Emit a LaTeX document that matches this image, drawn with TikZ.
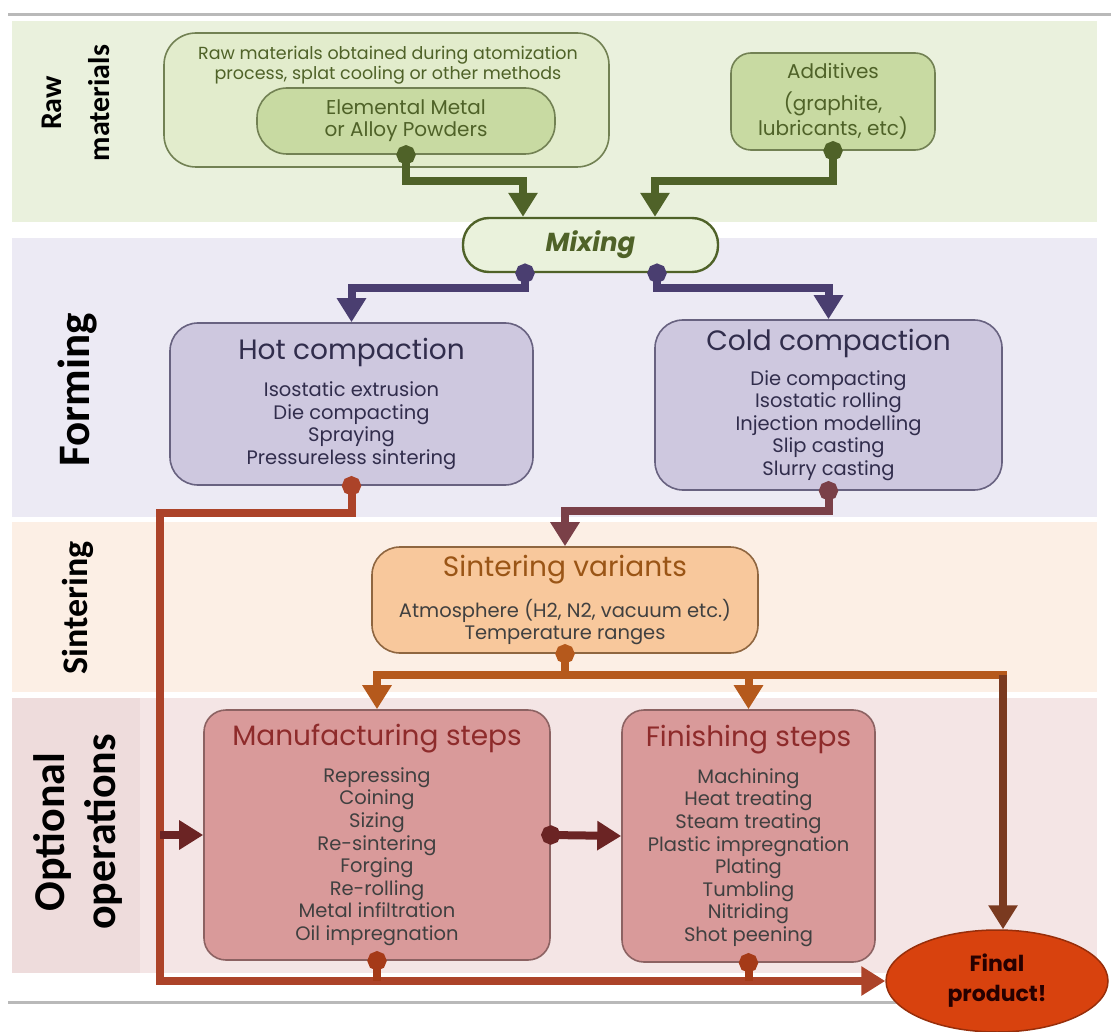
\documentclass[tikz,border=0pt]{standalone}
\usepackage{fontspec}
\setmainfont{Poppins}
\newfontfamily\lblfont{Carlito}
\usetikzlibrary{arrows.meta,shapes.geometric}

\newcommand{\boxtitle}{\fontsize{28}{30}\selectfont}

\definecolor{rawbg}{HTML}{EAF1DD}
\definecolor{formbg}{HTML}{ECEAF4}
\definecolor{sintbg}{HTML}{FCEFE5}
\definecolor{optbg}{HTML}{F4E5E5}
\definecolor{optlbl}{HTML}{EEDCDC}
\definecolor{grnline}{HTML}{4F6228}
\definecolor{grnfill}{HTML}{E2ECCC}
\definecolor{grnbox}{HTML}{C8DAA2}
\definecolor{mixfill}{HTML}{EAF2DC}
\definecolor{purfill}{HTML}{CEC8DF}
\definecolor{purline}{HTML}{686280}
\definecolor{purtext}{HTML}{3D385F}
\definecolor{purarrow}{HTML}{4A3E70}
\definecolor{plum}{HTML}{7A4048}
\definecolor{orgfill}{HTML}{F8C89C}
\definecolor{orgtext}{HTML}{9A5516}
\definecolor{orgline}{HTML}{B5591C}
\definecolor{pinkfill}{HTML}{D99A9A}
\definecolor{pinkline}{HTML}{8C6262}
\definecolor{redtext}{HTML}{8E2B2B}
\definecolor{maroon}{HTML}{6B2424}
\definecolor{rustline}{HTML}{C2441C}
\definecolor{brownline}{HTML}{7A3A20}
\definecolor{finalfill}{HTML}{D8420E}

\begin{document}
\begin{tikzpicture}[x=1pt,y=-1pt,
    bandlbl/.style={rotate=90, align=center, text=black},
    box/.style={rounded corners=28pt, line width=1.6pt, align=center, inner sep=0pt,
        font=\fontsize{19.5}{22.6}\selectfont},
    grnbx/.style={box, draw=grnline!80, fill=grnbox, text=grnline},
    purbx/.style={box, draw=purline, fill=purfill, text=purtext!80!black},
    orgbx/.style={box, draw=orgtext!60!gray, fill=orgfill, text=black!75},
    pinkbx/.style={box, rounded corners=22pt, draw=pinkline, fill=pinkfill, text=black!75},
    dotarrow/.style={line width=8pt, {Circle[length=19pt]}-{Triangle[width=28pt,length=24pt]}, shorten <=-9.5pt},
    dotonly/.style={line width=8pt, {Circle[length=19pt]}-, shorten <=-9.5pt},
    arrowonly/.style={line width=8pt, -{Triangle[width=28pt,length=24pt]}}]
    \useasboundingbox (0,0) rectangle (1111,1032);

    % bands
    \fill[rawbg] (12,21) rectangle (1097,222);
    \fill[formbg] (12,238) rectangle (1097,517);
    \fill[sintbg] (12,522) rectangle (1097,692);
    \fill[optbg] (12,698) rectangle (1097,973);
    \fill[optlbl] (12,698) rectangle (140,973);
    \draw[gray!55,line width=3pt] (8,15) -- (1111,15);
    \draw[gray!55,line width=3pt] (8,1002) -- (900,1002);

    % band labels
    \node[bandlbl, font=\lblfont\bfseries\fontsize{30}{48}\selectfont] (lraw) at (76,103) {Raw\\materials};
    \node[bandlbl, font=\lblfont\bfseries\fontsize{45}{50}\selectfont] (lform) at (78,390) {Forming};
    \node[bandlbl, font=\lblfont\bfseries\fontsize{36}{40}\selectfont] (lsint) at (78,608) {Sintering};
    \node[bandlbl, font=\lblfont\bfseries\fontsize{44}{51}\selectfont] (lopt) at (78,832) {Optional\\operations};

    % raw materials
    \node[grnbx, fill=grnfill, rounded corners=32pt, minimum width=445, minimum height=134] (src) at (386.5,100) {};
    \node[text=grnline, align=center, font=\fontsize{17.5}{20}\selectfont] (srctxt) at (388,65)
        {Raw materials obtained during atomization\\process, splat cooling or other methods};
    \node[grnbx, rounded corners=30pt, minimum width=298, minimum height=66,
        font=\fontsize{20}{22}\selectfont] (pow) at (406,121) {Elemental Metal\\or Alloy Powders};
    \node[grnbx, rounded corners=20pt, minimum width=204, minimum height=97,
        font=\fontsize{20}{21.5}\selectfont] (add) at (833,101.5) {Additives\\[10pt](graphite,\\lubricants, etc)};
    \node[grnbx, draw=grnline, line width=2.4pt, fill=mixfill, rounded corners=26pt,
        minimum width=255, minimum height=54, font=\fontsize{26}{28}\selectfont\bfseries\itshape] (mix) at (590.5,245) {Mixing};

    % forming
    \node[purbx, minimum width=363, minimum height=162] (hot) at (351.5,404)
        {{\boxtitle Hot compaction}\\[14pt]Isostatic extrusion\\Die compacting\\Spraying\\Pressureless sintering};
    \node[purbx, minimum width=347, minimum height=170] (cold) at (828.5,405)
        {{\boxtitle Cold compaction}\\[12pt]Die compacting\\Isostatic rolling\\Injection modelling\\Slip casting\\Slurry casting};

    % sintering
    \node[orgbx, minimum width=386, minimum height=106] (sint) at (565,600)
        {{\boxtitle\color{orgtext} Sintering variants}\\[14pt]Atmosphere (H2, N2, vacuum etc.)\\Temperature ranges};

    % optional operations
    \node[pinkbx, minimum width=346, minimum height=250] (manu) at (377,835)
        {{\boxtitle\color{redtext} Manufacturing steps}\\[14pt]Repressing\\Coining\\Sizing\\Re-sintering\\Forging\\Re-rolling\\Metal infiltration\\Oil impregnation};
    \node[pinkbx, minimum width=253, minimum height=252] (fini) at (748.5,836)
        {{\boxtitle\color{redtext} Finishing steps}\\[14pt]Machining\\Heat treating\\Steam treating\\Plastic impregnation\\Plating\\Tumbling\\Nitriding\\Shot peening};
    \node[ellipse, draw=finalfill!70!black, line width=1.5pt, fill=finalfill, minimum width=222, minimum height=102,
        align=center, inner sep=0pt, text=black!85!red, font=\fontsize{22}{30}\selectfont\bfseries] (final) at (997,981) {Final\\product!};

    \coordinate (rail) at (160,981);

    % connectors
    \draw[dotarrow, grnline] (pow.south) -- ++(0,26) -| ([xshift=-67.5]mix.north);
    \draw[dotarrow, grnline] (add.south) -- ++(0,30) -| ([xshift=64.5]mix.north);
    \draw[dotarrow, purarrow] ([xshift=-65.5]mix.south) -- ++(0,15) -| (hot.north);
    \draw[dotarrow, purarrow] ([xshift=66.5]mix.south) -- ++(0,15) -| (cold.north);
    \draw[dotarrow, plum] (cold.south) -- ++(0,20) -| (sint.north);
    \draw[dotarrow, rustline!70!plum] (hot.south) -- ++(0,27) -| (rail) -- (final.west);
    \draw[arrowonly, maroon] (manu.west -| rail) -- (manu.west);
    \draw[dotarrow, maroon] (manu.east) -- (fini.west);
    \draw[dotonly, orgline] (sint.south) -- ++(0,21) coordinate (busc);
    \draw[line width=8pt, line cap=rect, orgline] (manu.north |- busc) -- ([xshift=6pt]final.north |- busc);
    \draw[arrowonly, orgline] (manu.north |- busc) -- (manu.north);
    \draw[arrowonly, orgline] (fini.north |- busc) -- (fini.north);
    \draw[arrowonly, brownline] ([xshift=6pt]final.north |- busc) -- ([xshift=6pt]final.north);
    \draw[dotonly, rustline!85!black] (manu.south) -- (manu.south |- rail);
    \draw[dotonly, rustline!85!black] (fini.south) -- (fini.south |- rail);
\end{tikzpicture}
\end{document}
